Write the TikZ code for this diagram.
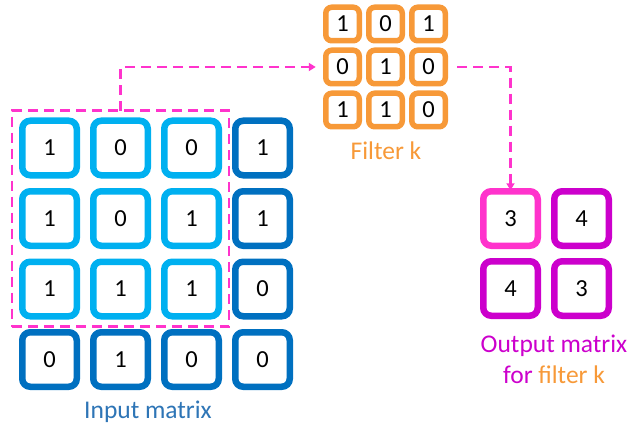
\documentclass[tikz,border=0pt]{standalone}
\usepackage{fontspec}
\setmainfont{Carlito}
\usetikzlibrary{arrows.meta}

\definecolor{inlight}{RGB}{0,176,240}
\definecolor{indark}{RGB}{0,112,192}
\definecolor{inlabel}{RGB}{46,117,182}
\definecolor{filt}{RGB}{247,153,56}
\definecolor{hot}{RGB}{255,51,204}
\definecolor{outc}{RGB}{204,0,204}

\tikzset{
  x=1pt, y=-1pt,
  numtext/.style={font=\fontsize{24.5}{28}\selectfont, text=black},
  bigcell/.style={draw, fill=white, rounded corners=8pt, line width=6.5pt,
    minimum size=54.5pt, inner sep=0pt, outer sep=0pt, numtext},
  smallcell/.style={draw=filt, fill=white, rounded corners=6pt, line width=5.5pt,
    minimum size=33.5pt, inner sep=0pt, outer sep=0pt, numtext},
  caption/.style={font=\fontsize{25.5}{31.5}\selectfont, inner sep=0pt, anchor=base},
  window/.style={draw=hot, line width=2.8pt, dash pattern=on 10pt off 6pt,
    inner sep=0pt, outer sep=0pt},
  link/.style={draw=hot, line width=2.8pt, dash pattern=on 10pt off 6pt,
    -{Triangle[length=7pt,width=8pt]}},
}

\begin{document}
\begin{tikzpicture}
\useasboundingbox (0,0) rectangle (629,425);

% input matrix, 4x4
\foreach \r/\y/\a/\b/\c/\d in {1/148/1/0/0/1, 2/218.5/1/0/1/1, 3/289/1/1/1/0}{
  \node[bigcell, draw=inlight] (i\r1) at (49.5,\y) {\a};
  \node[bigcell, draw=inlight] (i\r2) at (120.5,\y) {\b};
  \node[bigcell, draw=inlight] (i\r3) at (191.5,\y) {\c};
  \node[bigcell, draw=indark] (i\r4) at (262.5,\y) {\d};
}
\node[bigcell, draw=indark] (i41) at (49.5,359.5) {0};
\node[bigcell, draw=indark] (i42) at (120.5,359.5) {1};
\node[bigcell, draw=indark] (i43) at (191.5,359.5) {0};
\node[bigcell, draw=indark] (i44) at (262.5,359.5) {0};
\node[caption, text=inlabel] (inlabel) at (148,418.3) {Input matrix};

% receptive field window over the top-left 3x3 block
\node[window, minimum width=217pt, minimum height=216pt] (win) at (120.5,218.7) {};

% filter, 3x3
\foreach \r/\y/\a/\b/\c in {1/24/1/0/1, 2/67/0/1/0, 3/110/1/1/0}{
  \node[smallcell] (f\r1) at (342.5,\y) {\a};
  \node[smallcell] (f\r2) at (385.5,\y) {\b};
  \node[smallcell] (f\r3) at (428.5,\y) {\c};
}
\node[caption, text=filt] (flabel) at (386,159.5) {Filter k};

% output matrix, 2x2
\node[bigcell, draw=hot] (o11) at (510.5,218.5) {3};
\node[bigcell, draw=outc] (o12) at (581.5,218.5) {4};
\node[bigcell, draw=outc] (o21) at (510.5,288.5) {4};
\node[bigcell, draw=outc] (o22) at (581.5,288.5) {3};
\node[caption, text=outc] (olabel1) at (554,352) {Output matrix};
\node[caption, text=outc] (olabel2) at (554,383.5) {for \textcolor{filt}{filter k}};

% connectors
\draw[link, shorten >=10pt] (win.north) |- (f21.west);
\draw[link, shorten <=12pt, shorten >=1pt] (f23.east) -| (o11.north);
\end{tikzpicture}
\end{document}
